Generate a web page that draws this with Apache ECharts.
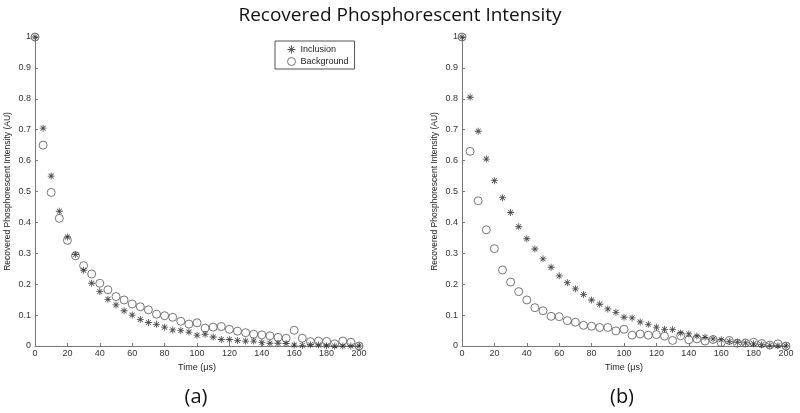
<!DOCTYPE html>
<html><head><meta charset="utf-8">
<script src="https://cdn.jsdelivr.net/npm/echarts@6/dist/echarts.min.js"></script>
<style>html,body{margin:0;padding:0;background:#fff}#c{width:800px;height:413px}</style>
</head><body><div id="c"></div>
<script>
var times = [0,5,10,15,20,25,30,35,40,45,50,55,60,65,70,75,80,85,90,95,100,105,110,115,120,125,130,135,140,145,150,155,160,165,170,175,180,185,190,195,200];
var inclusionA = [1,0.705,0.55,0.436,0.353,0.296,0.245,0.203,0.176,0.151,0.133,0.114,0.100,0.086,0.076,0.070,0.061,0.052,0.050,0.045,0.035,0.038,0.029,0.021,0.021,0.018,0.016,0.016,0.011,0.009,0.009,0.008,0.003,0.002,0.004,0.003,0.001,0.0,0.0,0.0,0.0];
var backgroundA = [1,0.65,0.497,0.413,0.342,0.292,0.26,0.233,0.203,0.182,0.160,0.149,0.136,0.127,0.117,0.103,0.098,0.093,0.080,0.071,0.075,0.058,0.061,0.063,0.054,0.048,0.043,0.038,0.036,0.033,0.028,0.025,0.051,0.025,0.014,0.016,0.015,0.007,0.016,0.012,0.0];
var inclusionB = [1,0.805,0.695,0.605,0.535,0.480,0.432,0.386,0.347,0.314,0.282,0.255,0.227,0.205,0.185,0.167,0.149,0.135,0.120,0.109,0.093,0.091,0.078,0.070,0.061,0.054,0.053,0.042,0.039,0.032,0.028,0.023,0.020,0.015,0.012,0.010,0.007,0.004,0.002,0.001,0.0];
var backgroundB = [1,0.63,0.470,0.376,0.315,0.246,0.207,0.176,0.149,0.124,0.114,0.096,0.095,0.082,0.077,0.067,0.064,0.060,0.060,0.049,0.054,0.035,0.039,0.035,0.037,0.032,0.018,0.033,0.020,0.023,0.016,0.021,0.011,0.018,0.009,0.010,0.012,0.008,0.003,0.007,0.0];
var seriesNames = ['Inclusion','Background'];
var titleText = 'Recovered Phosphorescent Intensity';
var yName = 'Recovered Phosphorescent Intensity (AU)';
var xName = 'Time (\u03bcs)';
var panelLabels = ['(a)','(b)'];

function pairs(xs, ys){ return xs.map(function(x,i){ return [x, ys[i]]; }); }
var star = 'path://M0 4.4L10 4.4L10 5.6L0 5.6Z M4.4 0L5.6 0L5.6 10L4.4 10Z M1.1 1.9L1.9 1.1L8.9 8.1L8.1 8.9Z M8.1 1.1L8.9 1.9L1.9 8.9L1.1 8.1Z';
var font = 'Arial, "Liberation Sans", sans-serif';
var bigFont = '"Open Sans", sans-serif';

function xAxis(idx){
  return {type:'value', gridIndex:idx, min:0, max:200, interval:20,
    name:xName, nameLocation:'middle', nameGap:13,
    nameTextStyle:{fontSize:9, color:'#222', fontFamily:font},
    axisLine:{lineStyle:{color:'#777', width:1}},
    axisTick:{inside:true, length:3, lineStyle:{color:'#777'}},
    axisLabel:{fontSize:9, color:'#333', margin:3, fontFamily:font},
    splitLine:{show:false}};
}
function yAxis(idx){
  return {type:'value', gridIndex:idx, min:0, max:1, interval:0.1,
    name:yName, nameLocation:'middle', nameGap:23,
    nameTextStyle:{fontSize:8.5, color:'#222', fontFamily:font},
    axisLine:{lineStyle:{color:'#777', width:1}},
    axisTick:{inside:true, length:3, lineStyle:{color:'#777'}},
    axisLabel:{fontSize:9, color:'#333', margin:4, fontFamily:font,
      formatter:function(v){ return (Math.round(v*10)/10).toString(); }},
    splitLine:{show:false}};
}
function starSeries(idx, data){
  return {name:seriesNames[0], type:'scatter', xAxisIndex:idx, yAxisIndex:idx,
    data:pairs(times,data), symbol:star, symbolSize:7,
    itemStyle:{color:'#222'}, z:3, animation:false};
}
function circSeries(idx, data){
  return {name:seriesNames[1], type:'scatter', xAxisIndex:idx, yAxisIndex:idx,
    data:pairs(times,data), symbol:'circle', symbolSize:8,
    itemStyle:{color:'rgba(255,255,255,0)', borderColor:'#555', borderWidth:1}, z:2, animation:false};
}

var chart = echarts.init(document.getElementById('c'), null, {renderer:'canvas'});
chart.setOption({
  animation:false,
  backgroundColor:'#fff',
  title:[
    {text:titleText, left:'center', top:1, textStyle:{fontSize:19, fontWeight:'normal', color:'#111', fontFamily:bigFont}}
  ],
  graphic:[
    {type:'text', x:196, y:397, style:{text:panelLabels[0], align:'center', verticalAlign:'middle', fontSize:20, fill:'#111', fontFamily:bigFont}},
    {type:'text', x:622, y:397, style:{text:panelLabels[1], align:'center', verticalAlign:'middle', fontSize:20, fill:'#111', fontFamily:bigFont}}
  ],
  legend:{orient:'vertical', left:275, top:41, data:[
      {name:seriesNames[0], icon:star, itemStyle:{color:'#222'}},
      {name:seriesNames[1], icon:'circle', itemStyle:{color:'#fff', borderColor:'#555', borderWidth:1}}],
    itemWidth:8, itemHeight:8, itemGap:3, padding:[4,6,3,12],
    borderColor:'#555', borderWidth:1, backgroundColor:'#fff',
    textStyle:{fontSize:9, color:'#222', fontFamily:font},
    selectedMode:false},
  grid:[
    {left:35, right:441, top:37, bottom:67},
    {left:462, right:14, top:37, bottom:67}
  ],
  xAxis:[xAxis(0), xAxis(1)],
  yAxis:[yAxis(0), yAxis(1)],
  series:[starSeries(0,inclusionA), circSeries(0,backgroundA), starSeries(1,inclusionB), circSeries(1,backgroundB)]
});
</script></body></html>
